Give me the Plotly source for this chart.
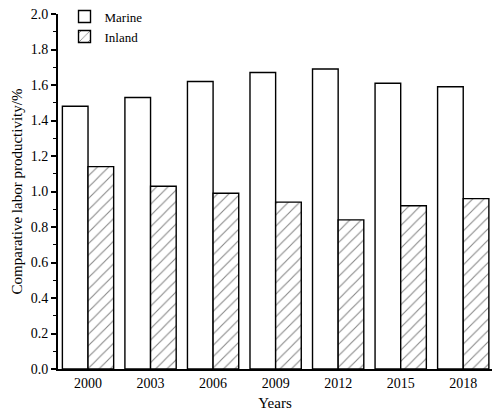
import plotly.graph_objects as go

years = ["2000", "2003", "2006", "2009", "2012", "2015", "2018"]
marine = [1.48, 1.53, 1.62, 1.67, 1.69, 1.61, 1.59]
inland = [1.14, 1.03, 0.99, 0.94, 0.84, 0.92, 0.96]
y_ticks = [0.0, 0.2, 0.4, 0.6, 0.8, 1.0, 1.2, 1.4, 1.6, 1.8, 2.0]

font_family = "Liberation Serif"

fig = go.Figure()
fig.add_trace(go.Bar(
    x=years, y=marine, name="Marine",
    marker=dict(color="white", line=dict(color="black", width=1.4)),
))
fig.add_trace(go.Bar(
    x=years, y=inland, name="Inland",
    marker=dict(color="white", line=dict(color="black", width=1.4),
                pattern=dict(shape="/", fgcolor="#111111", bgcolor="white", size=8, solidity=0.14)),
))

fig.update_layout(
    width=492, height=414,
    margin=dict(l=58, r=0, t=14, b=45),
    paper_bgcolor="white", plot_bgcolor="white",
    barmode="group", bargap=0.18, bargroupgap=0,
    font=dict(family=font_family, size=14, color="black"),
    showlegend=True,
    legend=dict(x=0.015, y=1.035, xanchor="left", yanchor="top",
                bgcolor="rgba(0,0,0,0)", font=dict(size=13, family=font_family),
                tracegroupgap=0, itemwidth=30),
)
fig.update_xaxes(
    type="category", range=[-0.48, 6.46],
    showline=True, linecolor="black", linewidth=2,
    ticks="", showgrid=False,
    title=dict(text="Years", font=dict(size=15), standoff=8),
    tickfont=dict(size=14),
)
fig.update_yaxes(
    range=[0, 2.0], tickvals=y_ticks, ticktext=[f"{v:.1f}" for v in y_ticks],
    showline=True, linecolor="black", linewidth=2,
    ticks="outside", ticklen=5, tickwidth=1.5, tickcolor="black",
    minor=dict(ticks="outside", ticklen=3, tickwidth=1.2, tickcolor="black", dtick=0.1, showgrid=False),
    showgrid=False, zeroline=False,
    title=dict(text="Comparative labor productivity/%", font=dict(size=15), standoff=4),
    tickfont=dict(size=14),
)

fig.write_html("out.html", config={"displayModeBar": False},
               post_script="document.body.style.margin='0';document.body.style.overflow='hidden';")
